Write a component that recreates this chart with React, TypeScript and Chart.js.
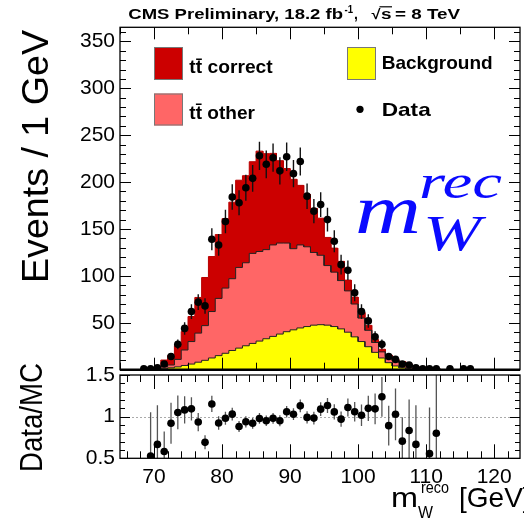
import React, { useEffect, useRef } from 'react';
import { Chart, registerables } from 'chart.js';
Chart.register(...registerables);

const W = 524;
const H = 523;

// ---------- data (1 GeV bins) ----------
const binCenters = [
  68.5, 69.5, 70.5, 71.5, 72.5, 73.5, 74.5, 75.5, 76.5, 77.5,
  78.5, 79.5, 80.5, 81.5, 82.5, 83.5, 84.5, 85.5, 86.5, 87.5,
  88.5, 89.5, 90.5, 91.5, 92.5, 93.5, 94.5, 95.5, 96.5, 97.5,
  98.5, 99.5, 100.5, 101.5, 102.5, 103.5, 104.5, 105.5, 106.5, 107.5,
  108.5, 109.5, 110.5, 111.5, 112.5, 113.5, 114.5, 115.5, 116.5,
];
const dataCounts = [
  1, 1, 2, 6, 14, 27, 44, 62, 72, 68,
  139, 133, 158, 184, 178, 194, 204, 228, 219, 226,
  212, 227, 209, 222, 185, 169, 176, 160, 137, 112,
  106, 82, 62, 52, 35, 27, 14, 11, 6, 5,
  2, 1, 1, 1, 0, 1, 0, 1, 1,
];
const background = [
  0, 0.2, 0.5, 1, 2, 3, 4.5, 6, 8, 10,
  12.5, 15, 17.5, 20.5, 23, 25.5, 28, 30.5, 33, 35.5,
  38, 40.5, 42.5, 44.5, 46, 47.5, 48, 47.5, 46, 43.5,
  40, 35, 30, 24.5, 18.5, 12.5, 7.5, 4, 2, 1,
  0.5, 0.2, 0.1, 0, 0, 0, 0, 0, 0,
];
const ttOther = [
  0, 0.6, 1, 2, 3, 8, 16.5, 24, 31, 37,
  49.5, 61, 69.5, 76.5, 86, 88.5, 96, 95.5, 95, 97.5,
  97, 94.5, 86.5, 88.5, 85, 77.5, 74, 63.5, 58, 51.5,
  44, 35, 25, 17.5, 10.5, 6.5, 6.5, 6, 5.5, 4.5,
  2.3, 2.2, 1.6, 1.2, 0, 0, 0, 0, 0,
];
const ttCorrect = [
  0, 1.1, 1.5, 7.3, 10.2, 14.7, 19.7, 26.7, 38, 51.3,
  58.6, 68, 74, 81.6, 93, 92.8, 97.7, 107, 102.3, 97.6,
  87.8, 79.4, 74, 63.5, 55.7, 47, 39.5, 30, 25.6, 20.5,
  11.5, 7.4, 6, 5.3, 3, 2.8, 1.7, 0.7, 1, 0.5,
  0.2, 0.2, 0.1, 0.05, 0, 0, 0, 0, 0,
];

const mainYTicks = [50, 100, 150, 200, 250, 300, 350];
const ratioYTicks = [0.5, 1, 1.5];
const xTicks = [70, 80, 90, 100, 110, 120];
const legendLabels = ['t\u0074\u0304 correct', 't\u0074\u0304 other', 'Background', 'Data'];

const X_MIN = 65;
const X_MAX = 123.8;
const Y_MAX = 365;

const RED = '#cc0000';
const PINK = '#ff6666';
const YELLOW = '#ffff00';
const SANS = '"Liberation Sans", Arial, Helvetica, sans-serif';
const SERIF = '"Liberation Serif", "Times New Roman", serif';

// ---------- derived ----------
const cumBg = background.slice();
const cumOther = background.map((b, i) => b + ttOther[i]);
const cumTotal = cumOther.map((v, i) => v + ttCorrect[i]);
const dataErr = dataCounts.map((d) => Math.sqrt(d));
const ratio = dataCounts.map((d, i) =>
  cumTotal[i] > 0 && d > 0 && d / cumTotal[i] >= 0.5 && d / cumTotal[i] <= 1.5 ? d / cumTotal[i] : null
);
const ratioErr = dataCounts.map((d, i) => (cumTotal[i] > 0 ? Math.sqrt(d) / cumTotal[i] : 0));

function stepPoints(vals: number[]) {
  const pts: { x: number; y: number }[] = [];
  binCenters.forEach((c, i) => {
    pts.push({ x: c - 0.5, y: vals[i] }, { x: c + 0.5, y: vals[i] });
  });
  return pts;
}

// ---------- drawing helpers ----------
function fitText(ctx: CanvasRenderingContext2D, text: string, x: number, y: number, font: string,
  width: number | null, align: CanvasTextAlign = 'left', color = '#000') {
  ctx.save();
  ctx.font = font;
  ctx.fillStyle = color;
  ctx.textBaseline = 'alphabetic';
  ctx.textAlign = align;
  const w = ctx.measureText(text).width;
  const sx = width ? width / w : 1;
  ctx.translate(x, y);
  ctx.scale(sx, 1);
  ctx.fillText(text, 0, 0);
  ctx.restore();
  return w * sx;
}

function rotText(ctx: CanvasRenderingContext2D, text: string, xBase: number, yStart: number, font: string,
  length: number, hScale = 1) {
  ctx.save();
  ctx.font = font;
  ctx.fillStyle = '#000';
  ctx.textBaseline = 'alphabetic';
  ctx.textAlign = 'left';
  const w = ctx.measureText(text).width;
  ctx.translate(xBase, yStart);
  ctx.rotate(-Math.PI / 2);
  ctx.scale(length / w, hScale);
  ctx.fillText(text, 0, 0);
  ctx.restore();
}

type FrameCfg = {
  xMinor: number; xMajor: number; xMinorLen: number; xMajorLen: number;
  yMinor: number; yMajor: number; yMinorLen: number; yMajorLen: number;
};

function drawFrame(chart: any, cfg: FrameCfg) {
  const { ctx, chartArea: a, scales } = chart;
  const xs = scales.x, ys = scales.y;
  ctx.save();
  ctx.strokeStyle = '#000';
  ctx.lineWidth = 1;
  ctx.beginPath();
  const nx0 = Math.ceil(xs.min / cfg.xMinor - 1e-6), nx1 = Math.floor(xs.max / cfg.xMinor + 1e-6);
  for (let n = nx0; n <= nx1; n++) {
    const v = n * cfg.xMinor;
    const r = v / cfg.xMajor;
    const major = Math.abs(r - Math.round(r)) < 1e-6;
    const len = major ? cfg.xMajorLen : cfg.xMinorLen;
    const px = Math.round(xs.getPixelForValue(v)) + 0.5;
    ctx.moveTo(px, a.bottom); ctx.lineTo(px, a.bottom - len);
    ctx.moveTo(px, a.top); ctx.lineTo(px, a.top + len);
  }
  const ny0 = Math.ceil(ys.min / cfg.yMinor - 1e-6), ny1 = Math.floor(ys.max / cfg.yMinor + 1e-6);
  for (let n = ny0; n <= ny1; n++) {
    const v = n * cfg.yMinor;
    const r = v / cfg.yMajor;
    const major = Math.abs(r - Math.round(r)) < 1e-6;
    const len = major ? cfg.yMajorLen : cfg.yMinorLen;
    const py = Math.round(ys.getPixelForValue(v)) + 0.5;
    ctx.moveTo(a.left, py); ctx.lineTo(a.left + len, py);
    ctx.moveTo(a.right, py); ctx.lineTo(a.right - len, py);
  }
  ctx.stroke();
  ctx.lineWidth = 1.3;
  ctx.strokeRect(a.left, a.top, a.right - a.left, a.bottom - a.top);
  ctx.restore();
}

function drawErrorBars(chart: any, vals: (number | null)[], errs: number[], color: string, width: number) {
  const { ctx, chartArea: a, scales } = chart;
  const xs = scales.x, ys = scales.y;
  ctx.save();
  ctx.beginPath();
  ctx.rect(a.left, a.top, a.right - a.left, a.bottom - a.top);
  ctx.clip();
  ctx.strokeStyle = color;
  ctx.lineWidth = width;
  ctx.beginPath();
  vals.forEach((v, i) => {
    if (v === null || v <= 0) return;
    const px = xs.getPixelForValue(binCenters[i]);
    ctx.moveTo(px, ys.getPixelForValue(v + errs[i]));
    ctx.lineTo(px, ys.getPixelForValue(v - errs[i]));
  });
  ctx.stroke();
  ctx.restore();
}

const mainDecor = {
  id: 'mainDecor',
  beforeDatasetDraw(chart: any, args: any) {
    if (args.index === 0) {
      drawErrorBars(chart, dataCounts.map((d) => (d > 0 ? d : null)), dataErr, '#111', 1.4);
    }
  },
  afterDatasetsDraw(chart: any) {
    drawFrame(chart, {
      xMinor: 5, xMajor: 10, xMinorLen: 7, xMajorLen: 12,
      yMinor: 10, yMajor: 50, yMinorLen: 6, yMajorLen: 11,
    });
    const { ctx, chartArea: a } = chart;
    ctx.save();
    ctx.strokeStyle = '#000';
    ctx.lineWidth = 2.5;
    ctx.beginPath();
    ctx.moveTo(a.left, a.bottom);
    ctx.lineTo(a.right, a.bottom);
    ctx.stroke();
    ctx.restore();
  },
  afterDraw(chart: any) {
    const ctx: CanvasRenderingContext2D = chart.ctx;
    // header
    const hb = `bold 14px ${SANS}`;
    fitText(ctx, 'CMS Preliminary, 18.2 fb', 128.3, 18.5, hb, 214.7);
    fitText(ctx, '-1', 344.5, 12.5, `bold 10px ${SANS}`, 8.5);
    fitText(ctx, ',', 354, 18.5, hb, null);
    fitText(ctx, '\u221A', 371.5, 18.5, hb, 9);
    fitText(ctx, 's', 381, 18.5, hb, 10.5);
    ctx.save();
    ctx.strokeStyle = '#000';
    ctx.lineWidth = 1.2;
    ctx.beginPath();
    ctx.moveTo(379.5, 6.8);
    ctx.lineTo(392, 6.8);
    ctx.stroke();
    ctx.restore();
    fitText(ctx, '= 8 TeV', 395, 18.5, hb, 65);

    // y title
    rotText(ctx, 'Events / 1 GeV', 48, 283, `32px ${SANS}`, 253, 1.17);

    // legend
    const lb = `bold 19px ${SANS}`;
    const box = (x: number, y: number, w: number, h: number, c: string) => {
      ctx.save();
      ctx.fillStyle = c;
      ctx.fillRect(x, y, w, h);
      ctx.strokeStyle = '#777';
      ctx.lineWidth = 1;
      ctx.strokeRect(x + 0.5, y + 0.5, w - 1, h - 1);
      ctx.restore();
    };
    box(154, 47, 29, 33, RED);
    box(154, 93.5, 29, 32, PINK);
    box(347, 47, 29, 33, YELLOW);
    fitText(ctx, legendLabels[0], 189.3, 73.3, lb, 83.4);
    fitText(ctx, legendLabels[1], 189.3, 119, lb, 65.7);
    fitText(ctx, legendLabels[2], 381.7, 69.3, lb, 111);
    fitText(ctx, legendLabels[3], 381.7, 115.7, lb, 49);
    ctx.save();
    ctx.fillStyle = '#000';
    ctx.beginPath();
    ctx.arc(360, 109.3, 3.6, 0, Math.PI * 2);
    ctx.fill();
    ctx.restore();

    // big label m_W^rec
    const blue = '#0a0aff';
    fitText(ctx, 'm', 355, 233, `italic 70px ${SERIF}`, 66, 'left', blue);
    fitText(ctx, 'rec', 419, 198, `italic 48px ${SERIF}`, 83, 'left', blue);
    fitText(ctx, 'W', 423, 250, `italic 50px ${SERIF}`, 58, 'left', blue);
  },
};

const ratioDecor = {
  id: 'ratioDecor',
  beforeDatasetsDraw(chart: any) {
    const { ctx, chartArea: a, scales } = chart;
    const py = Math.round(scales.y.getPixelForValue(1)) + 0.5;
    ctx.save();
    ctx.strokeStyle = '#aaa';
    ctx.lineWidth = 1;
    ctx.setLineDash([2, 2]);
    ctx.beginPath();
    ctx.moveTo(a.left, py);
    ctx.lineTo(a.right, py);
    ctx.stroke();
    ctx.restore();
    drawErrorBars(chart, ratio, ratioErr, '#555', 1.3);
  },
  afterDatasetsDraw(chart: any) {
    drawFrame(chart, {
      xMinor: 2, xMajor: 10, xMinorLen: 7, xMajorLen: 14,
      yMinor: 0.1, yMajor: 0.5, yMinorLen: 5, yMajorLen: 10,
    });
  },
  afterDraw(chart: any) {
    const ctx: CanvasRenderingContext2D = chart.ctx;
    rotText(ctx, 'Data/MC', 42, 472, `28px ${SANS}`, 109, 1.12);
    const f = `28px ${SANS}`;
    fitText(ctx, 'm', 391, 507, f, 27);
    fitText(ctx, 'W', 418, 518, `17px ${SANS}`, 15);
    fitText(ctx, 'reco', 421, 493, `17px ${SANS}`, 28);
    fitText(ctx, '[GeV]', 459, 507, f, null);
  },
};

export default function App() {
  const mainRef = useRef<HTMLCanvasElement | null>(null);
  const ratioRef = useRef<HTMLCanvasElement | null>(null);

  useEffect(() => {
    const tickFont = { family: SANS, size: 21 };
    const main = new Chart(mainRef.current as HTMLCanvasElement, {
      type: 'line',
      data: {
        datasets: [
          {
            label: legendLabels[3],
            data: binCenters.map((c, i) => ({ x: c, y: dataCounts[i] > 0 ? dataCounts[i] : null })),
            showLine: false,
            pointRadius: 3.8,
            pointBackgroundColor: '#000',
            pointBorderWidth: 0,
            order: 0,
          },
          {
            label: legendLabels[2],
            data: stepPoints(cumBg),
            borderColor: '#222',
            borderWidth: 1,
            backgroundColor: YELLOW,
            fill: 'origin',
            pointRadius: 0,
            tension: 0,
            order: 1,
          },
          {
            label: legendLabels[1],
            data: stepPoints(cumOther),
            borderColor: '#222',
            borderWidth: 1,
            backgroundColor: PINK,
            fill: 'origin',
            pointRadius: 0,
            tension: 0,
            order: 2,
          },
          {
            label: legendLabels[0],
            data: stepPoints(cumTotal),
            borderColor: '#b80000',
            borderWidth: 1,
            backgroundColor: RED,
            fill: 'origin',
            pointRadius: 0,
            tension: 0,
            order: 3,
          },
        ] as any,
      },
      options: {
        responsive: false,
        animation: false,
        devicePixelRatio: 1,
        layout: { padding: { left: 0, right: 2, top: 27.3, bottom: H - 369.7 } },
        plugins: { legend: { display: false }, tooltip: { enabled: false }, title: { display: false } },
        scales: {
          x: { type: 'linear', min: X_MIN, max: X_MAX, display: false },
          y: {
            type: 'linear',
            min: 0,
            max: Y_MAX,
            afterFit: (s: any) => { s.width = 120; },
            afterBuildTicks: (s: any) => { s.ticks = mainYTicks.map((v) => ({ value: v })); },
            grid: { display: false, drawTicks: false },
            border: { display: false },
            ticks: { font: tickFont, color: '#000', padding: 5, callback: (v: any) => String(v) },
          },
        },
      } as any,
      plugins: [mainDecor],
    });

    const rat = new Chart(ratioRef.current as HTMLCanvasElement, {
      type: 'line',
      data: {
        datasets: [
          {
            label: 'Data/MC',
            data: binCenters.map((c, i) => ({ x: c, y: ratio[i] })),
            showLine: false,
            pointRadius: 3.8,
            pointBackgroundColor: '#000',
            pointBorderWidth: 0,
          },
        ] as any,
      },
      options: {
        responsive: false,
        animation: false,
        devicePixelRatio: 1,
        layout: { padding: { left: 0, right: 2, top: 375, bottom: 0 } },
        plugins: { legend: { display: false }, tooltip: { enabled: false }, title: { display: false } },
        scales: {
          x: {
            type: 'linear',
            min: X_MIN,
            max: X_MAX,
            afterFit: (s: any) => { s.height = H - 458.3; },
            afterBuildTicks: (s: any) => { s.ticks = xTicks.map((v) => ({ value: v })); },
            grid: { display: false, drawTicks: false },
            border: { display: false },
            ticks: { font: tickFont, color: '#000', padding: 6, maxRotation: 0, autoSkip: false, callback: (v: any) => String(v) },
          },
          y: {
            type: 'linear',
            min: 0.5,
            max: 1.5,
            afterFit: (s: any) => { s.width = 120; },
            afterBuildTicks: (s: any) => { s.ticks = ratioYTicks.map((v) => ({ value: v })); },
            grid: { display: false, drawTicks: false },
            border: { display: false },
            ticks: { font: tickFont, color: '#000', padding: 5, callback: (v: any) => String(v) },
          },
        },
      } as any,
      plugins: [ratioDecor],
    });

    return () => {
      main.destroy();
      rat.destroy();
    };
  }, []);

  const cs: React.CSSProperties = { position: 'absolute', left: 0, top: 0, width: W, height: H };
  return (
    <div style={{ position: 'fixed', left: 0, top: 0, width: W, height: H, background: '#fff' }}>
      <canvas ref={mainRef} width={W} height={H} style={cs} />
      <canvas ref={ratioRef} width={W} height={H} style={cs} />
    </div>
  );
}
